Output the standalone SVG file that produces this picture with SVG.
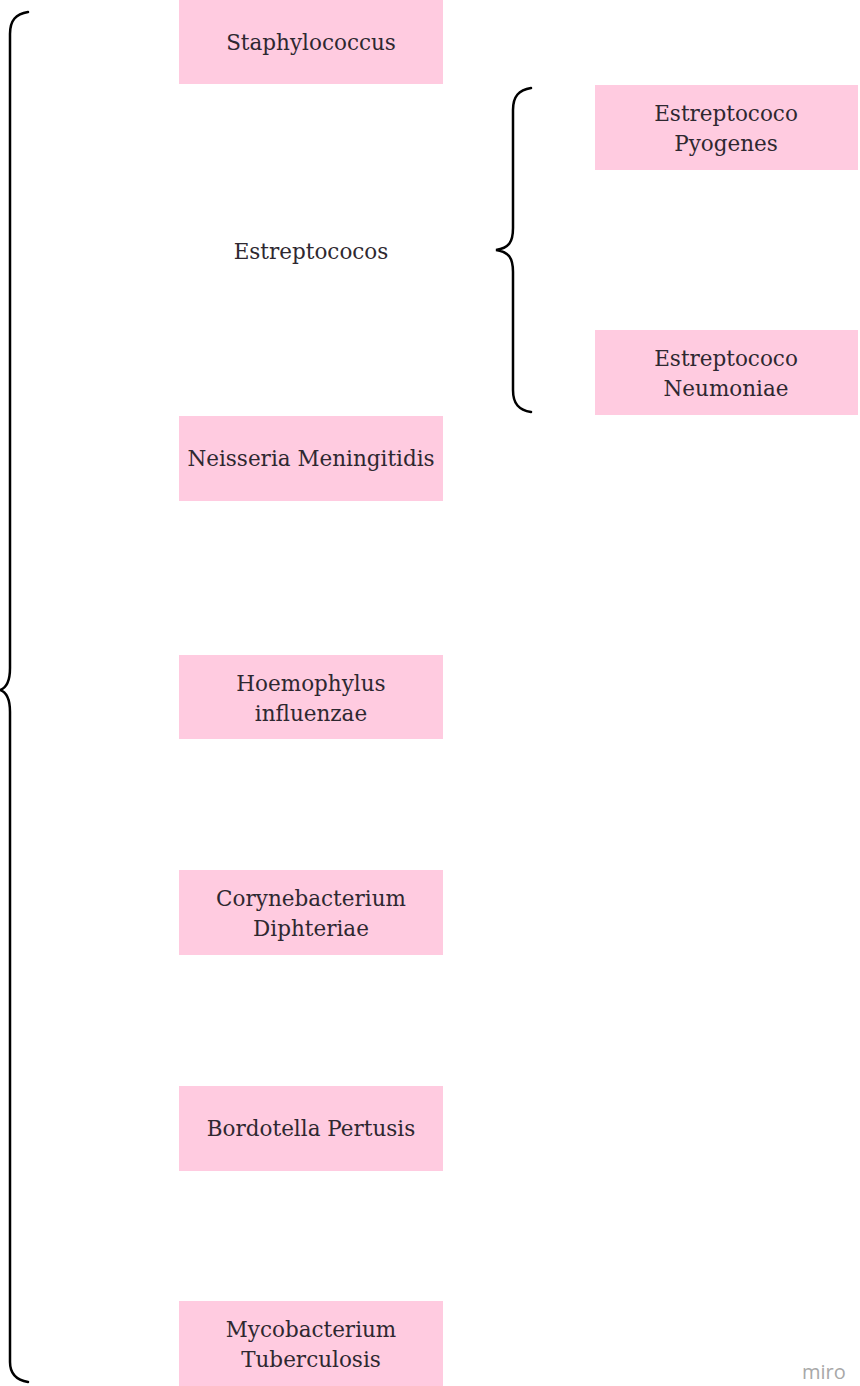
<svg xmlns="http://www.w3.org/2000/svg" width="860" height="1386" viewBox="0 0 860 1386">
<style>
.box{fill:#ffcbe0;}
.t{font-family:"DejaVu Serif","Liberation Serif",serif;font-size:21.5px;fill:#2e2830;text-anchor:middle;}
.br{fill:none;stroke:#000;stroke-width:2.5;stroke-linecap:round;}
.wm{font-family:"Open Sans","Liberation Sans",sans-serif;font-size:20px;fill:#a8a8a8;}
</style>
<rect width="860" height="1386" fill="#fff"/>
<g id="connectors">
<path class="br" d="M28,12 C16,14 10,20 10,34 L10,668 C10,682 6,688 0,690 C6,692 10,698 10,712 L10,1362 C10,1374 16,1380 28,1382"/>
<path class="br" d="M531,88 C519,90 513,96 513,110 L513,228 C513,242 509,248 496,250 C509,252 513,258 513,272 L513,390 C513,404 519,410 531,412"/>
</g>
<g id="staphylococcus"><rect class="box" x="179" y="0" width="264" height="84"/><text class="t" x="311" y="50">Staphylococcus</text></g>
<g id="estreptococos"><text class="t" x="311" y="259">Estreptococos</text></g>
<g id="pyogenes"><rect class="box" x="595" y="85" width="263" height="85"/><text class="t" x="726" y="121">Estreptococo</text><text class="t" x="726" y="151">Pyogenes</text></g>
<g id="neumoniae"><rect class="box" x="595" y="330" width="263" height="85"/><text class="t" x="726" y="366">Estreptococo</text><text class="t" x="726" y="396">Neumoniae</text></g>
<g id="neisseria"><rect class="box" x="179" y="416" width="264" height="85"/><text class="t" x="311" y="466">Neisseria Meningitidis</text></g>
<g id="hoemophylus"><rect class="box" x="179" y="655" width="264" height="84"/><text class="t" x="311" y="691">Hoemophylus</text><text class="t" x="311" y="721">influenzae</text></g>
<g id="corynebacterium"><rect class="box" x="179" y="870" width="264" height="85"/><text class="t" x="311" y="906">Corynebacterium</text><text class="t" x="311" y="936">Diphteriae</text></g>
<g id="bordotella"><rect class="box" x="179" y="1086" width="264" height="85"/><text class="t" x="311" y="1136">Bordotella Pertusis</text></g>
<g id="mycobacterium"><rect class="box" x="179" y="1301" width="264" height="85"/><text class="t" x="311" y="1337">Mycobacterium</text><text class="t" x="311" y="1367">Tuberculosis</text></g>
<text class="wm" x="802" y="1379">miro</text>
</svg>
